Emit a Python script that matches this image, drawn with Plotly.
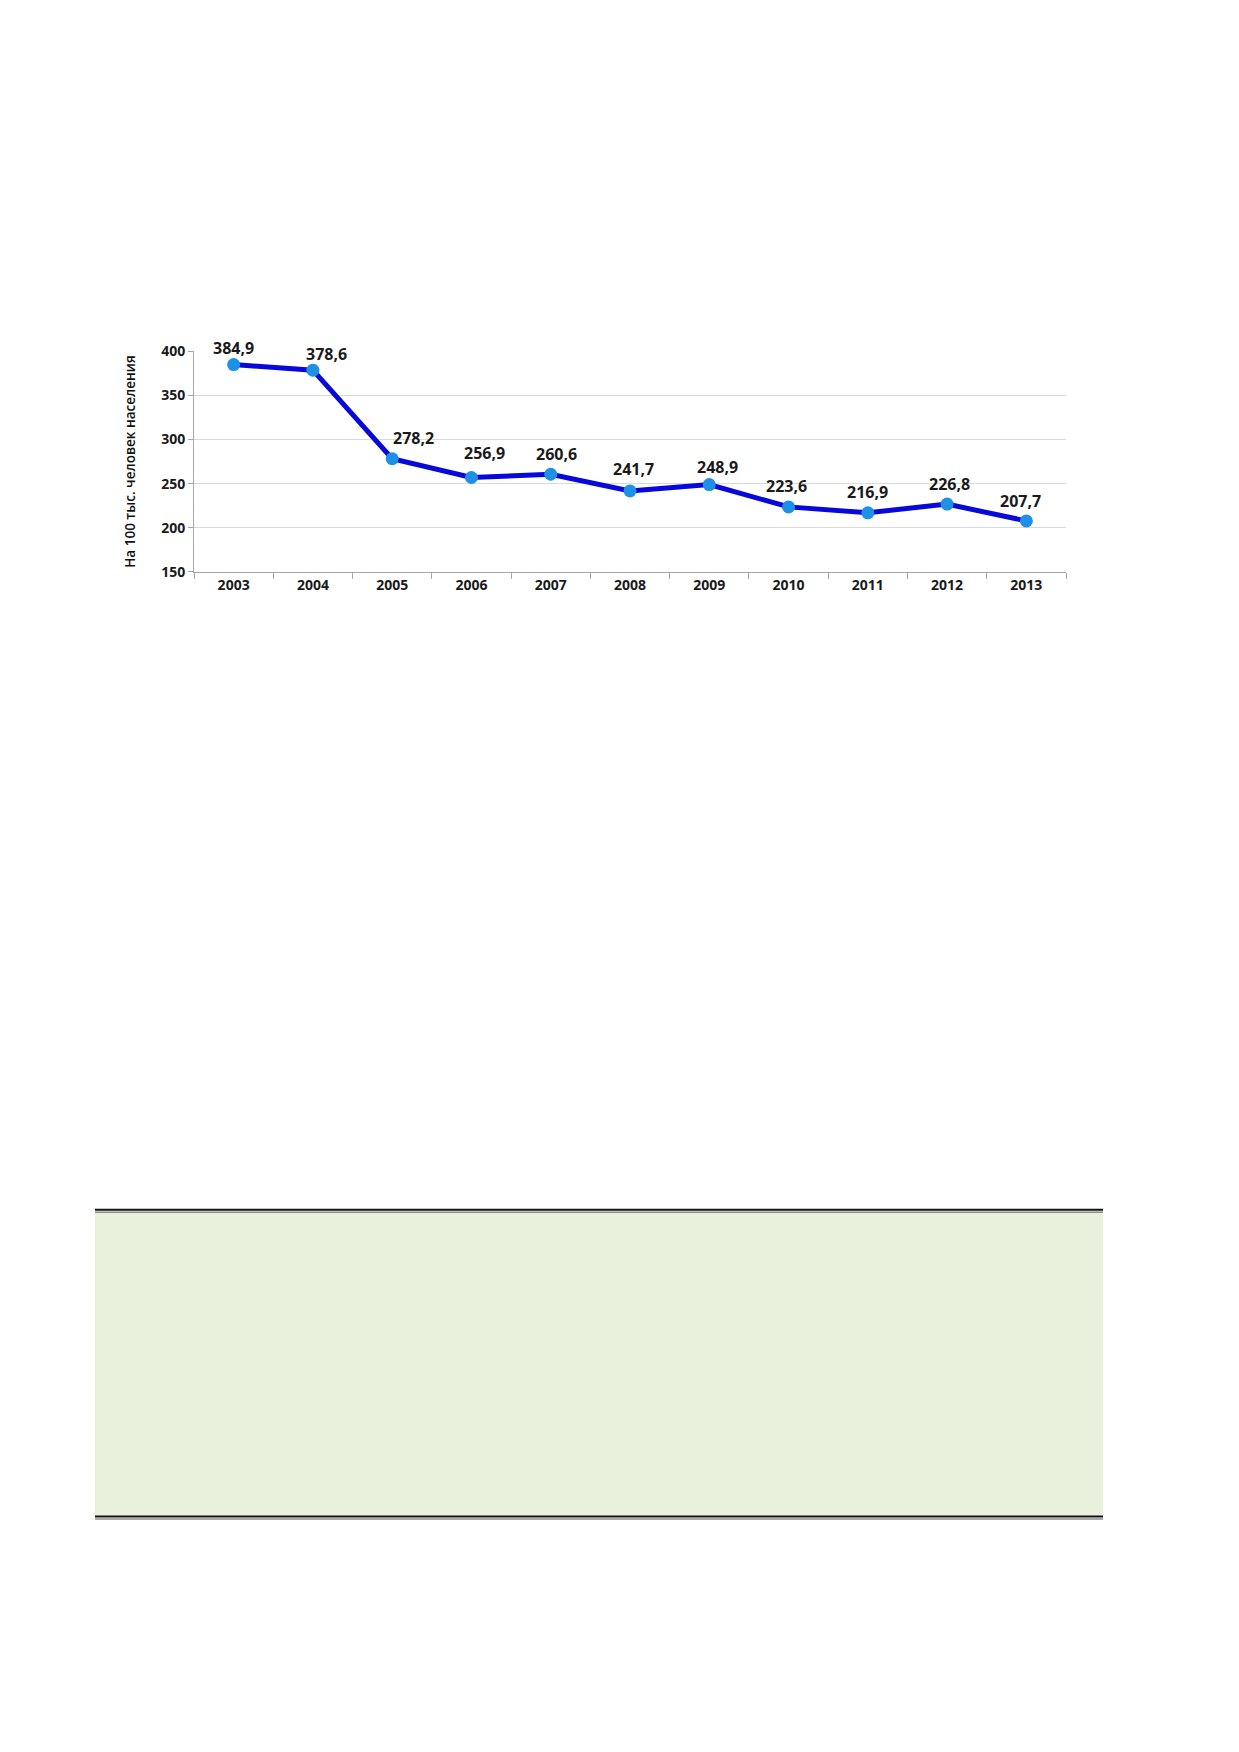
import plotly.graph_objects as go

# Data
years = ["2003", "2004", "2005", "2006", "2007", "2008",
         "2009", "2010", "2011", "2012", "2013"]
rates = [384.9, 378.6, 278.2, 256.9, 260.6, 241.7,
         248.9, 223.6, 216.9, 226.8, 207.7]
y_ticks = [150, 200, 250, 300, 350, 400]

# small nudges of the value labels (px), as in the source chart
label_dx = [0, 14, 21, 13, 6, 3, 8, -2, 0, 2, -6]
label_dy = [17, 16, 21, 25, 20, 22, 18, 21, 21, 20, 20]

W, H = 1239, 1752
DARK = "#1a1a1a"

fig = go.Figure()

# Main line with markers
fig.add_trace(go.Scatter(
    x=years,
    y=rates,
    mode="lines+markers",
    line=dict(color="#0808DA", width=5),
    marker=dict(color="#1E90E6", size=13),
    cliponaxis=False,
    showlegend=False,
))

# value labels (decimal comma as in the source); category index as x
for i, (v, dx, dy) in enumerate(zip(rates, label_dx, label_dy)):
    fig.add_annotation(
        x=i, y=v, xref="x", yref="y",
        text="<b>" + f"{v:.1f}".replace(".", ",") + "</b>",
        showarrow=False, xshift=dx, yshift=dy,
        font=dict(family="Open Sans", size=16, color=DARK),
    )

tick_font = dict(family="Open Sans", size=14, color=DARK, weight="bold")

# Axes
fig.update_xaxes(
    type="category",
    range=[-0.5, len(years) - 0.5],
    domain=[194 / W, 1066 / W],
    tickson="boundaries",
    ticks="outside",
    ticklen=6,
    tickcolor="#A6A6A6",
    showline=True,
    linecolor="#A6A6A6",
    linewidth=1,
    showgrid=False,
    tickfont=tick_font,
)
fig.update_yaxes(
    range=[150, 400],
    domain=[1 - 568 / H, 1 - 345 / H],
    tickvals=y_ticks,
    ticks="outside",
    ticklen=5,
    tickcolor="#A6A6A6",
    showline=True,
    linecolor="#A6A6A6",
    linewidth=1,
    showgrid=True,
    gridcolor="#DADADA",
    gridwidth=1,
    zeroline=False,
    tickfont=tick_font,
    title=dict(text="На 100 тыс. человек населения",
               font=dict(family="Open Sans", size=13.5, color="#111111",
                         weight=600),
               standoff=22),
)

# Light green boxed panel lower on the page
box_x0, box_x1 = 95 / W, 1103 / W
top, bottom = 1 - 1214 / H, 1 - 1523 / H
fig.add_shape(type="rect", xref="paper", yref="paper",
              x0=box_x0, x1=box_x1, y0=bottom, y1=top,
              fillcolor="#E9F1DD", line=dict(width=0), layer="below")
# double rules at top and bottom of the panel
for y, c, w in [(1 - 1213 / H, "#111111", 2), (1 - 1215.5 / H, "#8C8C8C", 1.5),
                (1 - 1523 / H, "#111111", 2), (1 - 1525.5 / H, "#8C8C8C", 1.5)]:
    fig.add_shape(type="line", xref="paper", yref="paper",
                  x0=box_x0, x1=box_x1, y0=y, y1=y,
                  line=dict(color=c, width=w))

fig.update_layout(
    width=W,
    height=H,
    autosize=False,
    margin=dict(l=0, r=0, t=0, b=0),
    paper_bgcolor="white",
    plot_bgcolor="white",
    font=dict(family="Open Sans"),
)

# drop the default page margin so the figure sits at the top-left corner
fig.write_html("out.html", config={"displayModeBar": False},
               post_script="document.body.style.margin='0';")
